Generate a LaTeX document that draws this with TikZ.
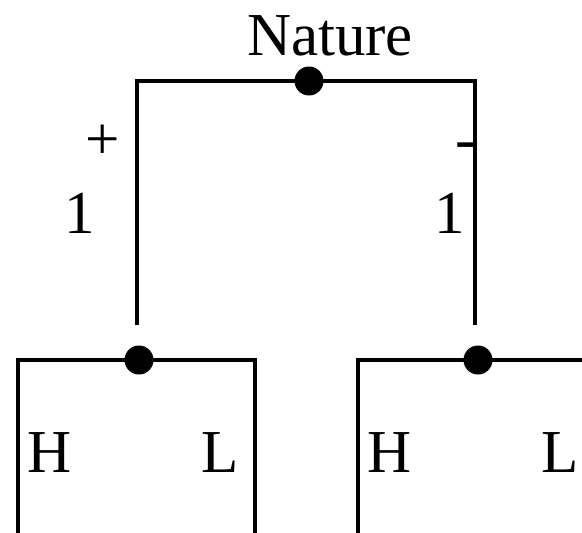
\documentclass[tikz,border=0pt]{standalone}
\usepackage{fontspec}
\setmainfont{Liberation Serif}

\begin{document}
\begin{tikzpicture}[
  x=1pt, y=-1pt, line join=miter,
  branch/.style ={draw=black, line width=3.4pt},
  dot/.style    ={circle, fill=black, inner sep=0pt, minimum size=29pt},
  lbl/.style    ={inner sep=0pt, anchor=base, font=\fontsize{61}{70}\selectfont},
]

\useasboundingbox (0,0) rectangle (582,533);

% ----- chance move at the root ------------------------------------------
\node[dot] (nat) at (309,81) {};
\node[lbl] (natlbl) at (330,55) {Nature};
\coordinate (pL) at (137,325);
\coordinate (pR) at (475,325);
\draw[branch] (pL) |- (nat.center) -| (pR);

\node[lbl] (plus)  at (103,159) {+};
\node[lbl] (minus) at (466,159) {-};
\node[lbl] (oneL)  at (80,233)  {1};
\node[lbl] (oneR)  at (450,233) {1};

% ----- the two decision nodes below -------------------------------------
\node[dot] (dL) at (139,360) {};
\coordinate (dLa) at (18,540);
\coordinate (dLb) at (255,540);
\draw[branch] (dLa) |- (dL.center) -| (dLb);

\node[dot] (dR) at (478,360) {};
\coordinate (dRa) at (358,540);
\coordinate (dRb) at (600,360);
\draw[branch] (dRa) |- (dR.center) -- (dRb);

\node[lbl] (hL) at (50,472)  {H};
\node[lbl] (lL) at (220,472) {L};
\node[lbl] (hR) at (390,472) {H};
\node[lbl] (lR) at (560,472) {L};

\end{tikzpicture}
\end{document}
